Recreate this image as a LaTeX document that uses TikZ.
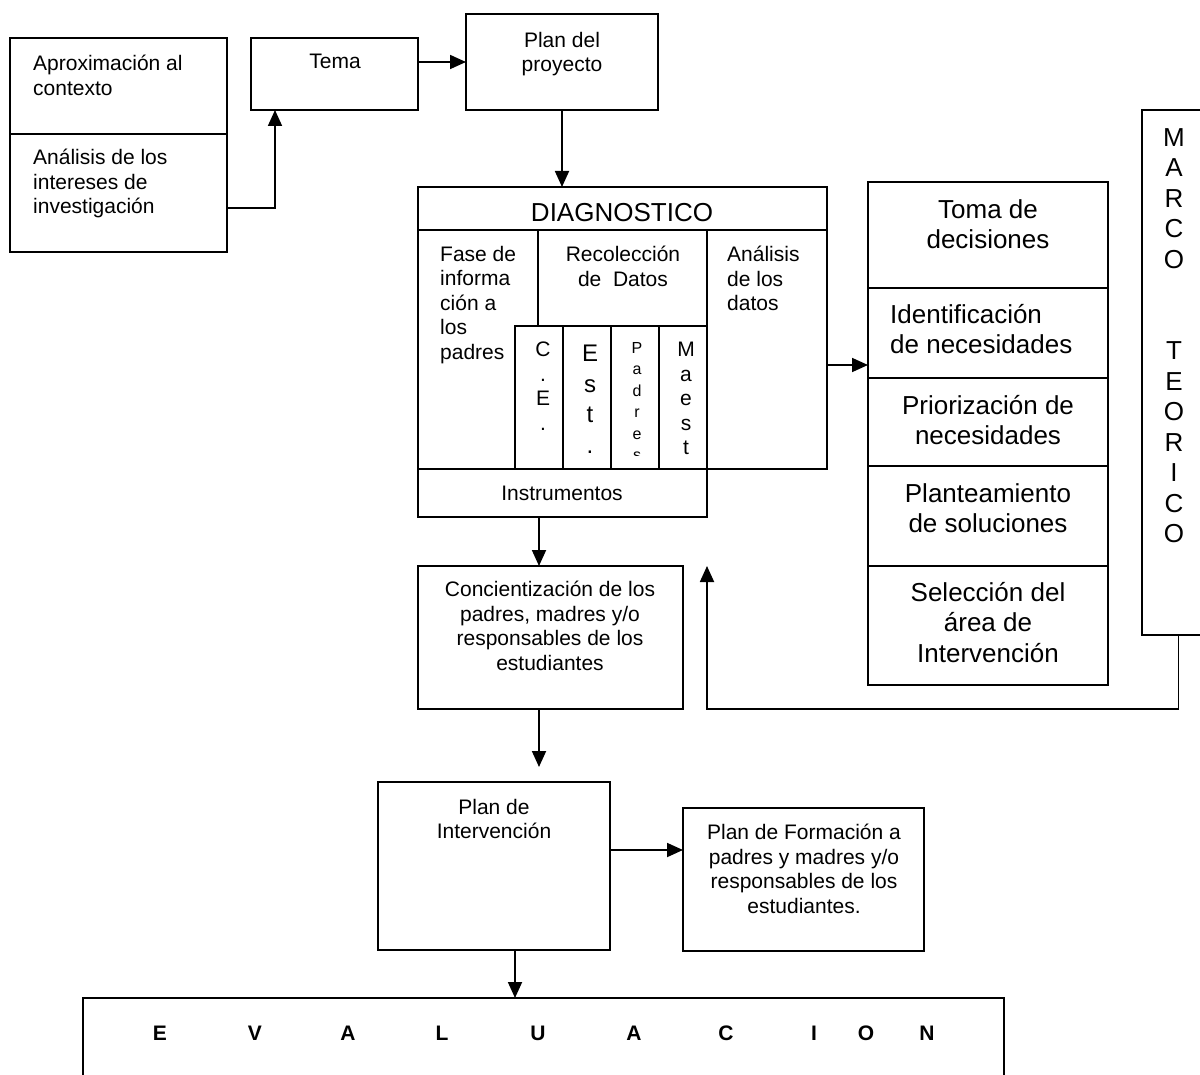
\documentclass[tikz,border=0pt]{standalone}
\usepackage{fontspec}
\setmainfont{Liberation Sans}
\usetikzlibrary{fit,arrows.meta}
\newcommand{\normaltxt}{\fontsize{21}{24.5}\selectfont}
\newcommand{\bigtxt}{\fontsize{26}{30.5}\selectfont}

\begin{document}
\begin{tikzpicture}[x=1pt, y=-1pt,
    box/.style={draw, line width=1.8pt, inner sep=0pt, outer sep=0pt},
    txt/.style={inner sep=0pt, font=\normaltxt, align=center, anchor=north},
    ltxt/.style={inner sep=0pt, font=\normaltxt, align=left, anchor=north west},
    btxt/.style={inner sep=0pt, font=\bigtxt, align=center, anchor=north},
    arr/.style={line width=1.8pt, -{Triangle[length=16pt, width=14pt]}},
    evl/.style={inner sep=0pt, font=\normaltxt\bfseries, anchor=base}]

        \clip (0,0) rectangle (1200,1075);

        %Top row
        \node [box, fit={(10,38) (227,134)}] (aprox) {};
        \node [box, fit={(10,134) (227,252)}] (analisis) {};
        \node [ltxt] at (33,55) {Aproximación al\\contexto};
        \node [ltxt] at (33,149) {Análisis de los\\intereses de\\investigación};
        \node [box, fit={(251,38) (418,110)}] (tema) {};
        \node [txt] at (335,54) {Tema};
        \node [box, fit={(466,14) (658,110)}] (plan) {};
        \node [txt] at (562,32) {Plan del\\proyecto};

        %Diagnostico
        \node [box, fit={(418,187) (827,469)}] (diag) {};
        \node [box, fit={(418,187) (827,230)}] (diagtitle) {};
        \node [inner sep=0pt, font=\bigtxt, anchor=base] at (622,222) {DIAGNOSTICO};
        \node [ltxt] at (440,246) {Fase de\\informa\\ción a\\los\\padres};
        \node [box, fit={(538,230) (707,326)}] (recol) {};
        \node [txt] at (623,246) {Recolección\\de\ \ Datos};
        \node [box, fit={(707,230) (827,469)}] (datos) {};
        \node [ltxt] at (727,246) {Análisis\\de los\\datos};
        \node [box, fit={(515,326) (563,469)}] (ce) {};
        \node [txt] at (543,342) {C\\.\\E\\.};
        \node [box, fit={(563,326) (611,469)}] (est) {};
        \node [txt, font=\fontsize{24}{30.5}\selectfont] at (590,345) {E\\s\\t\\.};
        \node [box, fit={(611,326) (659,469)}] (padres) {};
        \begin{scope}
          \clip (611,326) rectangle (659,455);
          \node [txt, font=\fontsize{16}{21.5}\selectfont] at (637,342) {P\\a\\d\\r\\e\\s};
        \end{scope}
        \node [box, fit={(659,326) (707,469)}] (maest) {};
        \node [txt] at (686,342) {M\\a\\e\\s\\t};
        \node [box, fit={(418,469) (707,517)}] (instr) {};
        \node [inner sep=0pt, font=\normaltxt, anchor=base] at (562,500) {Instrumentos};

        %Right column
        \node [box, fit={(868,182) (1108,288)}] (toma) {};
        \node [btxt] at (988,199) {Toma de\\decisiones};
        \node [box, fit={(868,288) (1108,378)}] (ident) {};
        \node [btxt, align=left, anchor=north west] at (890,304) {Identificación\\de necesidades};
        \node [box, fit={(868,378) (1108,466)}] (prior) {};
        \node [btxt] at (988,395) {Priorización de\\necesidades};
        \node [box, fit={(868,466) (1108,566)}] (plant) {};
        \node [btxt] at (988,483) {Planteamiento\\de soluciones};
        \node [box, fit={(868,566) (1108,685)}] (selec) {};
        \node [btxt] at (988,582) {Selección del\\área de\\Intervención};

        %Marco teorico
        \node [box, fit={(1142,110) (1215,635)}] (marco) {};
        \node [btxt] at (1174,128) {M\\A\\R\\C\\O\\[61pt]T\\E\\O\\R\\I\\C\\O};

        %Lower part
        \node [box, fit={(418,566) (683,709)}] (concient) {};
        \node [txt] at (550,581) {Concientización de los\\padres, madres y/o\\responsables de los\\estudiantes};
        \node [box, fit={(378,782) (610,950)}] (planint) {};
        \node [txt] at (494,799) {Plan de\\Intervención};
        \node [box, fit={(683,808) (924,951)}] (formacion) {};
        \node [txt] at (804,824) {Plan de Formación a\\padres y madres y/o\\responsables de los\\estudiantes.};

        %Evaluacion
        \node [box, fit={(83,998) (1004,1100)}] (eval) {};
        \node [evl] at (160,1040) {E};
        \node [evl] at (255,1040) {V};
        \node [evl] at (348,1040) {A};
        \node [evl] at (442,1040) {L};
        \node [evl] at (538,1040) {U};
        \node [evl] at (634,1040) {A};
        \node [evl] at (726,1040) {C};
        \node [evl] at (814,1040) {I};
        \node [evl] at (866,1040) {O};
        \node [evl] at (927,1040) {N};

        %Arrows
        \coordinate (a1) at ([yshift=-15pt]analisis.east);
        \coordinate (t1) at ([xshift=24pt]tema.south west);
        \draw [arr] (a1) -| (t1);
        \draw [arr] (tema.east |- plan.west) -- (plan.west);
        \draw [arr] (plan.south) -- (plan.south |- diag.north);
        \coordinate (d1) at ([yshift=-37pt]diag.east);
        \draw [arr] (d1) -- (d1 -| ident.west);
        \draw [arr] (instr.south -| ce.south) -- (concient.north -| ce.south);
        \draw [arr] (marco.south) |- (concient.south -| instr.east) -- (concient.north -| instr.east);
        \draw [arr, shorten >=15pt] (concient.south -| ce.south) -- (planint.north -| ce.south);
        \coordinate (p1) at ([yshift=16pt]planint.east);
        \draw [arr] (p1) -- (p1 -| formacion.west);
        \coordinate (e1) at ([xshift=21pt]planint.south);
        \draw [arr] (e1) -- (e1 |- eval.north);

\end{tikzpicture}
\end{document}
